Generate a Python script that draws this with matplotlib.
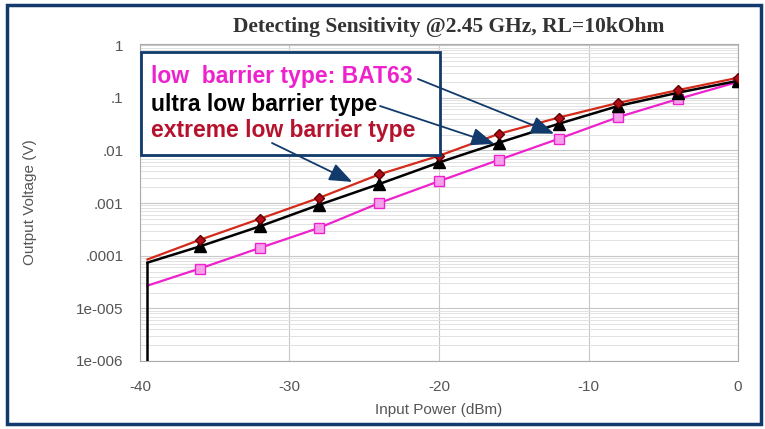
#!/usr/bin/env python3
"""
Detecting sensitivity of Schottky detector diodes at 2.45 GHz, RL = 10 kOhm.
"""

import matplotlib
matplotlib.use("Agg")
import matplotlib.pyplot as plt
from matplotlib.patches import Rectangle
from matplotlib.ticker import FixedLocator, LogLocator, NullFormatter

# Input power (dBm) for the measured points
power = [-39.5, -36, -32, -28, -24, -20, -16, -12, -8, -4, 0]
marker_idx = list(range(1, 11))

# Output voltage (V) per diode type
v_low = [2.7e-5, 5.7e-5, 1.4e-4, 3.4e-4, 1.0e-3, 2.6e-3, 6.6e-3, 0.0166, 0.043, 0.095, 0.20]
v_ultra = [7.4e-5, 1.5e-4, 3.6e-4, 9.3e-4, 2.3e-3, 5.9e-3, 0.014, 0.032, 0.070, 0.125, 0.21]
v_extreme = [8.5e-5, 2.0e-4, 5.0e-4, 1.26e-3, 3.5e-3, 7.9e-3, 0.0206, 0.042, 0.080, 0.14, 0.24]

# vertical drop of the ultra low barrier curve at the lowest input power
drop_power = [-39.5, -39.5]
drop_volt = [1e-7, v_ultra[0]]

xticks = [-40, -30, -20, -10, 0]
yticks = [1, 0.1, 0.01, 0.001, 0.0001, 1e-5, 1e-6]
ytick_labels = ["1", ".1", ".01", ".001", ".0001", "1e-005", "1e-006"]

NAVY = "#123a6b"
MAGENTA = "#ee22cc"
DARKRED = "#b5122e"
TICK_GREY = "#555555"

plt.rcParams["font.family"] = ["Liberation Sans", "DejaVu Sans"]

fig = plt.figure(figsize=(7.65, 4.29), dpi=100)
fig.patch.set_facecolor("white")

# outer frame
fig.add_artist(Rectangle((7 / 765, 1 - 424 / 429), 754 / 765, 419 / 429,
                         transform=fig.transFigure, fill=False,
                         edgecolor=NAVY, linewidth=2.5))

ax = fig.add_axes([140 / 765, 1 - 361 / 429, 598 / 765, 317 / 429])
ax.set_yscale("log")
ax.set_xlim(-40, 0)
ax.set_ylim(1e-6, 1.05)

# grid
ax.yaxis.set_major_locator(FixedLocator(yticks))
ax.yaxis.set_minor_locator(LogLocator(base=10, subs=range(2, 10)))
ax.yaxis.set_minor_formatter(NullFormatter())
ax.grid(True, which="major", axis="both", color="#c8c8c8", linewidth=0.8)
ax.grid(True, which="minor", axis="y", color="#e2e2e2", linewidth=0.7)
ax.set_axisbelow(True)

ax.set_xticks(xticks)
ax.set_xticklabels([str(t) for t in xticks])
ax.set_yticklabels(ytick_labels)
ax.tick_params(axis="both", which="both", length=0, colors=TICK_GREY, labelsize=11)
ax.tick_params(axis="x", pad=14)
ax.tick_params(axis="y", pad=12)
for side in ["top", "right", "bottom", "left"]:
    ax.spines[side].set_color("#aaaaaa")
    ax.spines[side].set_linewidth(0.8)

ax.set_xlabel("Input Power (dBm)", fontsize=11, color=TICK_GREY, labelpad=6)
ax.set_ylabel("Output Voltage (V)", fontsize=11, color=TICK_GREY)
ax.yaxis.set_label_coords(-0.172, 0.5)

# curves
ax.plot(power, v_low, color=MAGENTA, linewidth=1.6, marker="s", markersize=6.5,
        markerfacecolor="#f5a0ea", markeredgecolor=MAGENTA, markevery=marker_idx,
        zorder=3)
ax.plot(drop_power, drop_volt, color="black", linewidth=1.8, zorder=4)
ax.plot(power, v_ultra, color="black", linewidth=1.8, marker="^", markersize=8,
        markevery=marker_idx, zorder=4)
ax.plot(power, v_extreme, color="#d42a1a", linewidth=1.6, marker="D", markersize=5.5,
        markerfacecolor="#b00d18", markeredgecolor="#600000",
        markevery=marker_idx, zorder=5)

fig.text(449 / 765, 1 - 27 / 429, "Detecting Sensitivity @2.45 GHz, RL=10kOhm",
         ha="center", va="center", fontsize=15.5, fontweight="bold",
         family="Liberation Serif", color="#333333")

# annotation box, drawn inside the axes so the arrows can sit on top of it
ax.add_patch(Rectangle((141 / 765, 1 - 155 / 429), 299 / 765, 103 / 429,
                       transform=fig.transFigure, facecolor="white",
                       edgecolor=NAVY, linewidth=2, zorder=6, clip_on=False))
labels = ["low  barrier type: BAT63", "ultra low barrier type", "extreme low barrier type"]
label_colors = [MAGENTA, "black", DARKRED]
label_y = [77, 104, 131]
for text, col, yy in zip(labels, label_colors, label_y):
    ax.text(151 / 765, 1 - yy / 429, text, transform=fig.transFigure,
            ha="left", va="center", fontsize=16.5, fontweight="bold",
            color=col, zorder=7)

# arrows from labels to curves (start in figure pixels, end in data coords)
arrow_starts = [(418, 79), (380, 106), (272, 143)]
arrow_ends = [(-12.3, v_low[7] * 1.25), (-16.3, v_ultra[6] * 0.95), (-25.8, v_extreme[3] * 2.0)]
for (sx, sy), (ex, ey) in zip(arrow_starts, arrow_ends):
    ax.annotate("", xy=(ex, ey), xycoords="data",
                xytext=(sx / 765, 1 - sy / 429), textcoords="figure fraction",
                arrowprops=dict(arrowstyle="-|>,head_length=1.4,head_width=0.55",
                                color=NAVY, linewidth=1.3, shrinkA=0, shrinkB=0),
                zorder=8, annotation_clip=False)

fig.savefig("out.png", dpi=100, facecolor="white")
